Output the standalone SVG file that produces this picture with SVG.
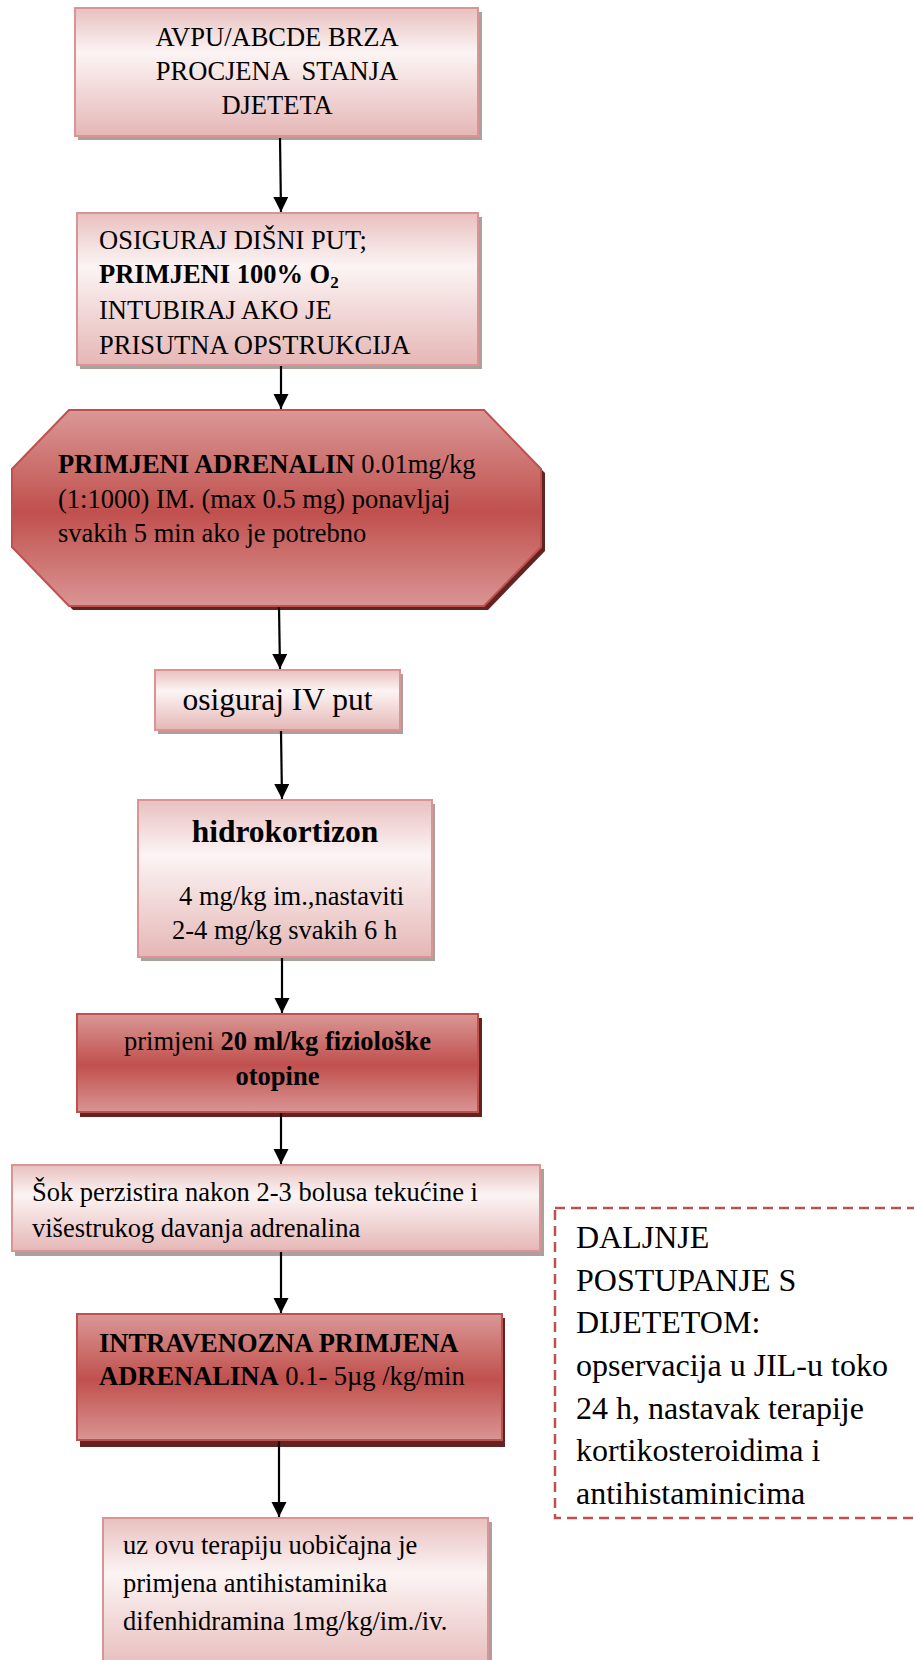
<svg xmlns="http://www.w3.org/2000/svg" width="914" height="1660" viewBox="0 0 914 1660">
<defs>
<linearGradient id="gLight" x1="0" y1="0" x2="0" y2="1">
<stop offset="0" stop-color="#e8c0bf"/>
<stop offset="0.35" stop-color="#fcf4f4"/>
<stop offset="1" stop-color="#e5b7b6"/>
</linearGradient>
<linearGradient id="gDark" x1="0" y1="0" x2="0" y2="1">
<stop offset="0" stop-color="#da9896"/>
<stop offset="0.52" stop-color="#c0504d"/>
<stop offset="1" stop-color="#d99594"/>
</linearGradient>
<marker id="ah" markerUnits="userSpaceOnUse" markerWidth="16" markerHeight="16" refX="15" refY="7.5" orient="auto">
<path d="M0,0 L15,7.5 L0,15 z" fill="#000"/>
</marker>
<style>
text{font-family:"Liberation Serif","Times New Roman",serif;fill:#000;font-size:26.5px}
.b{font-weight:bold}
.big{font-size:31.5px}
.dash{font-size:32px}
.light{fill:url(#gLight);stroke:#d99594;stroke-width:2}
.dark{fill:url(#gDark);stroke:#c0504d;stroke-width:2}
.shL{fill:#ae9e9e}
.shD{fill:#622423}
.c{text-anchor:middle}
.conn line{stroke:#000;stroke-width:2.2;marker-end:url(#ah)}
</style>
</defs>

<g id="n1">
<rect class="shL" x="78" y="12" width="404" height="128"/>
<rect class="light" x="75" y="8" width="403" height="128"/>
<text class="c" x="277" y="46">AVPU/ABCDE BRZA</text>
<text class="c" x="277" y="80" xml:space="preserve">PROCJENA  STANJA</text>
<text class="c" x="277" y="114">DJETETA</text>
</g>

<g id="n2">
<rect class="shL" x="80" y="217" width="402" height="152"/>
<rect class="light" x="77" y="213" width="401" height="152"/>
<text x="99" y="249">OSIGURAJ DIŠNI PUT;</text>
<text x="99" y="283" class="b">PRIMJENI 100% O<tspan font-size="17" dy="5">2</tspan></text>
<text x="99" y="319">INTUBIRAJ AKO JE</text>
<text x="99" y="354">PRISUTNA OPSTRUKCIJA</text>
</g>

<g id="n3">
<polygon class="shD" points="73,414 488,414 545,473 545,551 488,610 73,610 16,551 16,473"/>
<polygon class="dark" points="69,410 484,410 541,469 541,547 484,606 69,606 12,547 12,469"/>
<text x="58" y="473"><tspan class="b">PRIMJENI ADRENALIN</tspan> 0.01mg/kg</text>
<text x="58" y="508">(1:1000) IM. (max 0.5 mg) ponavljaj</text>
<text x="58" y="542">svakih 5 min ako je potrebno</text>
</g>

<g id="n4">
<rect class="shL" x="158" y="674" width="245" height="60"/>
<rect class="light" x="155" y="670" width="245" height="60"/>
<text class="c big" x="277.5" y="710">osiguraj IV put</text>
</g>

<g id="n5">
<rect class="shL" x="141" y="804" width="294" height="157"/>
<rect class="light" x="138" y="800" width="294" height="157"/>
<text class="c big b" x="285" y="842">hidrokortizon</text>
<text x="179" y="905">4 mg/kg im.,nastaviti</text>
<text x="172" y="939">2-4 mg/kg svakih 6 h</text>
</g>

<g id="n6">
<rect class="shD" x="80" y="1018" width="402" height="99"/>
<rect class="dark" x="77" y="1014" width="401" height="98"/>
<text class="c" x="277.5" y="1050">primjeni <tspan class="b">20 ml/kg fiziološke</tspan></text>
<text class="c b" x="277.5" y="1085">otopine</text>
</g>

<g id="n7">
<rect class="shL" x="15" y="1169" width="529" height="87"/>
<rect class="light" x="12" y="1165" width="528" height="86"/>
<text x="32" y="1201">Šok perzistira nakon 2-3 bolusa tekućine i</text>
<text x="32" y="1237">višestrukog davanja adrenalina</text>
</g>

<g id="n8">
<rect class="shD" x="80" y="1318" width="425" height="129"/>
<rect class="dark" x="77" y="1314" width="425" height="126"/>
<text x="99" y="1352" class="b">INTRAVENOZNA PRIMJENA</text>
<text x="99" y="1385"><tspan class="b">ADRENALINA</tspan> 0.1- 5µg /kg/min</text>
</g>

<g id="n9">
<rect class="shL" x="107" y="1522" width="385" height="160"/>
<rect class="light" x="103" y="1518" width="385" height="160"/>
<text x="123" y="1554">uz ovu terapiju uobičajna je</text>
<text x="123" y="1592">primjena antihistaminika</text>
<text x="123" y="1630">difenhidramina 1mg/kg/im./iv.</text>
</g>

<g id="n10">
<rect x="555" y="1208" width="400" height="310" fill="none" stroke="#c0504d" stroke-width="2.5" stroke-dasharray="10 6"/>
<text class="dash" x="576" y="1248">DALJNJE</text>
<text class="dash" x="576" y="1291">POSTUPANJE S</text>
<text class="dash" x="576" y="1333">DIJETETOM:</text>
<text class="dash" x="576" y="1376">opservacija u JIL-u toko</text>
<text class="dash" x="576" y="1419">24 h, nastavak terapije</text>
<text class="dash" x="576" y="1461">kortikosteroidima i</text>
<text class="dash" x="576" y="1504">antihistaminicima</text>
</g>

<g id="connectors" class="conn">
<line x1="280" y1="138" x2="281" y2="212"/>
<line x1="281" y1="366" x2="281" y2="409"/>
<line x1="279" y1="607" x2="280" y2="669"/>
<line x1="281" y1="731" x2="282" y2="799"/>
<line x1="282" y1="958" x2="282" y2="1013"/>
<line x1="281" y1="1113" x2="281" y2="1164"/>
<line x1="281" y1="1252" x2="281" y2="1313"/>
<line x1="279" y1="1441" x2="279" y2="1517"/>
</g>
</svg>
